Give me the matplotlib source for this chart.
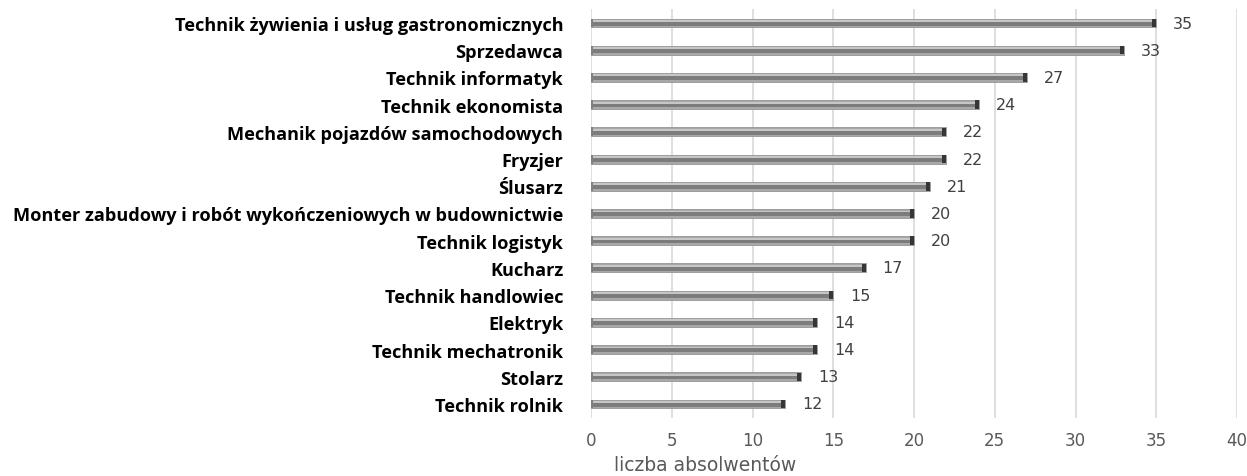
import matplotlib.pyplot as plt
import numpy as np

categories = ["Technik żywienia i usług gastronomicznych", "Sprzedawca", "Technik informatyk",
              "Technik ekonomista", "Mechanik pojazdów samochodowych", "Fryzjer", "Ślusarz",
              "Monter zabudowy i robót wykończeniowych w budownictwie", "Technik logistyk",
              "Kucharz", "Technik handlowiec", "Elektryk", "Technik mechatronik", "Stolarz",
              "Technik rolnik"]
values = [35, 33, 27, 24, 22, 22, 21, 20, 20, 17, 15, 14, 14, 13, 12]
xticks = [0, 5, 10, 15, 20, 25, 30, 35, 40]

fig = plt.figure(figsize=(12.47, 4.77), dpi=100)
ax = fig.add_axes([591/1247, 1-418.6/477, (1237-591)/1247, (418.6-10.4)/477])

y = np.arange(len(categories))
h = 0.33
# cylinder-like layers
ax.barh(y, values, height=h, color='#a8a8a8', edgecolor='#969696', linewidth=0.6, zorder=3)
ax.barh(y + 0.03, values, height=h*0.42, color='#7c7c7c', linewidth=0, zorder=4)
ax.barh(y - 0.075, values, height=h*0.2, color='#c6c6c6', linewidth=0, zorder=4)
# dark end cap
cap = 0.25
ax.barh(y, [cap]*len(values), left=np.array(values) - cap, height=h*0.95, color='#363636', linewidth=0, zorder=5)
ax.barh(y, [0.12]*len(values), left=0, height=h, color='#808080', linewidth=0, zorder=5)

for yi, v in zip(y, values):
    ax.text(v + 1.05, yi, str(v), va='center', ha='left', fontsize=11.5, color='#404040', family='DejaVu Sans')

ax.set_ylim(len(categories) - 0.5, -0.5)
ax.set_xlim(0, 40)
ax.set_xticks(xticks)
ax.set_xticklabels([str(t) for t in xticks], fontsize=12, color='#595959', family='DejaVu Sans')
ax.set_yticks(y)
ax.set_yticklabels(categories, fontsize=13.1, fontweight='bold', family='Open Sans', color='#000000')
ax.tick_params(axis='y', length=0, pad=20)
ax.tick_params(axis='x', length=0, pad=10)
ax.grid(axis='x', color='#d9d9d9', linewidth=1.2, zorder=0)
for s in ax.spines.values():
    s.set_visible(False)
ax.set_xlabel('liczba absolwentów', fontsize=13.5, color='#595959', family='DejaVu Sans')
ax.xaxis.set_label_coords((705 - 591) / 646, -(466 - 418.6) / 408.2)
ax.xaxis.label.set_verticalalignment('center')

fig.savefig('out.png', dpi=100)
